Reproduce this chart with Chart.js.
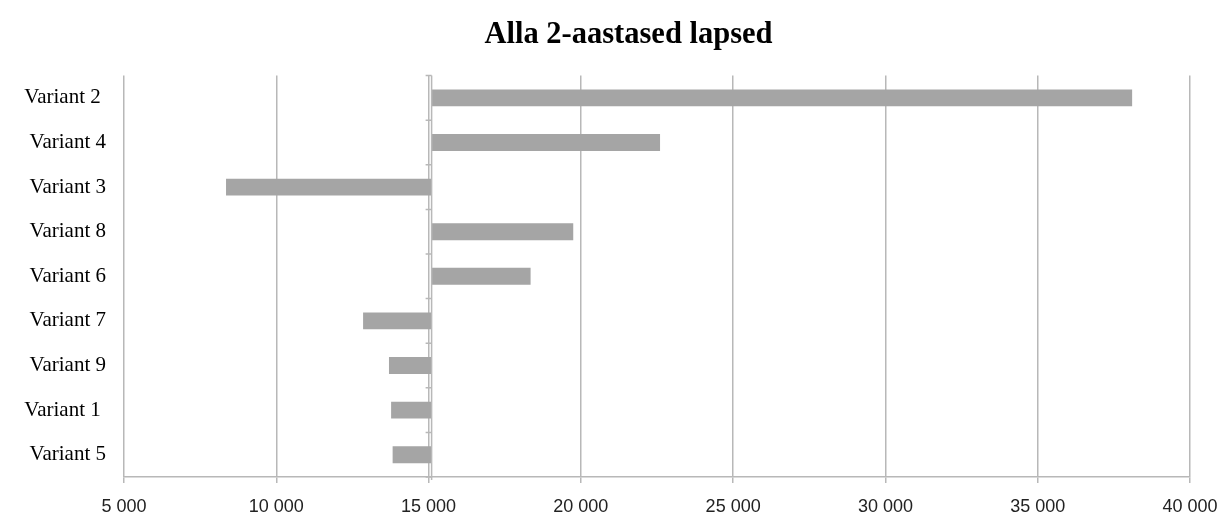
<!DOCTYPE html>
<html>
<head>
<meta charset="utf-8">
<script src="https://cdn.jsdelivr.net/npm/chart.js@4/dist/chart.umd.min.js"></script>
<style>
html,body{margin:0;padding:0;background:#fff;}
#wrap{width:1223px;height:515px;position:relative;}
</style>
</head>
<body>
<div id="wrap"><canvas id="c"></canvas></div>
<script>
const TITLE = "Alla 2-aastased lapsed";
const categories = ["Variant 2 ", "Variant 4", "Variant 3", "Variant 8", "Variant 6", "Variant 7", "Variant 9", "Variant 1 ", "Variant 5"];
const values = [38100, 22600, 8350, 19750, 18350, 12850, 13700, 13770, 13820];
const BASE = 15100;
const X_MIN = 5000, X_MAX = 40000, X_STEP = 5000;

const GRID = '#b8b8b8';

const baseAxisPlugin = {
  id: 'baseAxis',
  afterDatasetsDraw(chart) {
    const xs = chart.scales.x, ys = chart.scales.y;
    const ctx = chart.ctx;
    const x = xs.getPixelForValue(BASE);
    const n = categories.length;
    const band = (ys.bottom - ys.top) / n;
    ctx.save();
    ctx.strokeStyle = GRID;
    ctx.lineWidth = 1.5;
    ctx.beginPath();
    ctx.moveTo(x, ys.top);
    ctx.lineTo(x, ys.bottom + 3);
    for (let i = 0; i <= n; i++) {
      const y = ys.top + i * band;
      ctx.moveTo(x - 6, y);
      ctx.lineTo(x, y);
    }
    ctx.stroke();
    ctx.restore();
  }
};

function fmt(v) {
  return String(v).replace(/\B(?=(\d{3})+(?!\d))/g, ' ');
}

new Chart(document.getElementById('c'), {
  type: 'bar',
  data: {
    labels: categories,
    datasets: [{
      data: values.map(v => [BASE, v]),
      backgroundColor: '#a5a5a5',
      borderWidth: 0,
      barPercentage: 0.38,
      categoryPercentage: 1.0
    }]
  },
  options: {
    indexAxis: 'y',
    responsive: true,
    maintainAspectRatio: false,
    animation: false,
    layout: { padding: { left: 14, right: -20, top: 0, bottom: 0 } },
    plugins: {
      legend: { display: false },
      tooltip: { enabled: false },
      title: {
        display: true,
        text: TITLE,
        color: '#000',
        font: { family: 'Liberation Serif', size: 30.5, weight: 'bold' },
        padding: { top: 17, bottom: 22 }
      }
    },
    scales: {
      x: {
        type: 'linear',
        min: X_MIN,
        max: X_MAX,
        afterFit(scale) { scale.paddingRight = 33; scale.height = 38; },
        ticks: {
          stepSize: X_STEP,
          color: '#222',
          font: { family: 'Liberation Sans', size: 18 },
          padding: 13,
          maxRotation: 0,
          callback: (v) => fmt(v)
        },
        grid: { color: GRID, lineWidth: 1.5, tickLength: 6, drawTicks: true },
        border: { display: true, color: GRID, width: 1.5 }
      },
      y: {
        afterFit(scale) { scale.width = 110; },
        ticks: {
          color: '#000',
          font: { family: 'Liberation Serif', size: 21 },
          padding: 18
        },
        grid: { display: false, drawTicks: false },
        border: { display: false }
      }
    }
  },
  plugins: [baseAxisPlugin]
});
</script>
</body>
</html>
